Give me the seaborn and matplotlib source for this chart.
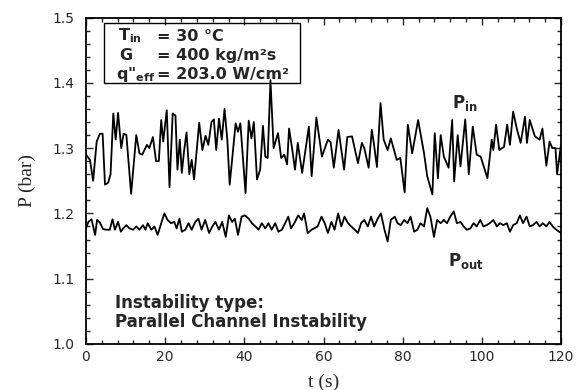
import numpy as np
import pandas as pd
import matplotlib
matplotlib.use("Agg")
import matplotlib.pyplot as plt
import seaborn as sns
from matplotlib.ticker import MultipleLocator
from matplotlib.patches import Rectangle

t_in = [0.0, 1.0, 1.8, 2.7, 3.5, 4.2, 4.8, 5.6, 6.2, 6.9, 7.5, 8.1, 8.9, 9.5, 10.2, 11.4, 12.7, 13.5, 14.2,
        15.4, 16.0, 16.9, 17.7, 18.4, 19.0, 19.5, 20.4, 21.1, 21.9, 22.6, 23.1, 23.7, 24.2, 24.8, 25.4, 26.1,
        26.7, 27.3, 28.6, 29.4, 30.2, 30.9, 31.7, 32.3, 32.9, 33.6, 34.3, 35.0, 35.7, 36.3, 37.8, 38.4, 39.0,
        40.3, 41.1, 41.8, 42.4, 43.2, 44.0, 44.7, 45.3, 45.9, 46.6, 47.4, 48.5, 49.3, 50.1, 50.8, 51.3, 52.0,
        52.8, 53.5, 54.6, 56.3, 57.0, 58.2, 59.6, 61.1, 61.8, 62.6, 63.8, 65.2, 66.0, 67.2, 68.7, 69.7, 70.3,
        71.4, 72.2, 72.7, 73.5, 74.4, 75.2, 76.2, 77.0, 78.5, 79.4, 80.5, 81.3, 82.4, 83.9, 85.4, 86.2, 87.5,
        88.1, 88.9, 89.6, 90.4, 91.6, 92.5, 93.0, 93.9, 94.6, 95.8, 96.7, 97.7, 98.7, 99.7, 101.4, 102.5,
        102.9, 103.6, 104.4, 105.6, 106.4, 107.1, 107.9, 108.9, 109.8, 110.9, 111.4, 112.1, 113.4, 114.6,
        115.3, 116.3, 117.1, 117.8, 118.6, 119.0, 120.0]
p_in = [1.290, 1.282, 1.250, 1.310, 1.322, 1.322, 1.244, 1.247, 1.260, 1.353, 1.313, 1.354, 1.300, 1.322,
        1.320, 1.230, 1.320, 1.292, 1.290, 1.305, 1.300, 1.317, 1.280, 1.280, 1.343, 1.310, 1.358, 1.240,
        1.353, 1.350, 1.267, 1.313, 1.262, 1.297, 1.324, 1.260, 1.282, 1.252, 1.339, 1.297, 1.319, 1.305,
        1.340, 1.344, 1.297, 1.345, 1.313, 1.360, 1.313, 1.244, 1.338, 1.325, 1.338, 1.231, 1.342, 1.315,
        1.340, 1.252, 1.267, 1.334, 1.287, 1.285, 1.404, 1.300, 1.323, 1.285, 1.290, 1.275, 1.330, 1.302,
        1.267, 1.308, 1.262, 1.333, 1.257, 1.347, 1.287, 1.313, 1.309, 1.270, 1.328, 1.267, 1.317, 1.318,
        1.277, 1.308, 1.300, 1.270, 1.328, 1.308, 1.271, 1.369, 1.313, 1.297, 1.315, 1.282, 1.285, 1.232,
        1.336, 1.292, 1.343, 1.292, 1.257, 1.229, 1.323, 1.254, 1.320, 1.287, 1.270, 1.343, 1.249, 1.320,
        1.272, 1.344, 1.260, 1.333, 1.290, 1.287, 1.254, 1.313, 1.297, 1.336, 1.297, 1.302, 1.336, 1.305,
        1.356, 1.328, 1.308, 1.348, 1.308, 1.343, 1.318, 1.313, 1.330, 1.273, 1.310, 1.300, 1.300, 1.260,
        1.305]

t_out = [0.0, 0.6, 1.4, 2.3, 2.8, 3.5, 4.3, 5.2, 6.0, 6.7, 7.3, 8.1, 8.8, 9.4, 10.2, 11.0, 11.9, 12.7, 13.5,
         14.4, 15.0, 15.6, 16.5, 17.3, 18.1, 19.0, 19.8, 20.6, 21.5, 22.3, 22.9, 23.6, 24.2, 25.1, 25.9, 26.7,
         27.6, 28.4, 29.2, 30.1, 31.1, 31.9, 32.7, 33.6, 34.4, 35.3, 36.1, 36.9, 37.6, 38.4, 39.3, 40.1, 41.1,
         41.9, 42.8, 43.6, 44.4, 45.3, 46.1, 46.9, 47.8, 48.6, 49.5, 50.3, 51.1, 51.8, 52.8, 53.6, 54.5, 55.1,
         56.0, 57.0, 58.5, 59.5, 60.3, 61.1, 62.0, 62.8, 63.7, 64.5, 65.3, 66.2, 67.0, 67.9, 68.7, 69.5, 70.3,
         71.2, 72.0, 72.8, 73.7, 74.5, 75.4, 76.2, 77.0, 78.0, 78.7, 79.5, 80.4, 81.2, 82.0, 82.9, 83.7, 84.5,
         85.4, 86.2, 87.0, 87.9, 88.7, 89.6, 90.4, 91.2, 92.0, 92.9, 93.7, 94.6, 95.4, 96.2, 97.1, 97.9, 98.7,
         99.6, 100.4, 101.2, 102.0, 102.9, 103.8, 104.6, 105.4, 106.3, 107.1, 107.9, 108.8, 109.6, 110.4,
         111.3, 112.1, 112.9, 113.8, 114.6, 115.4, 116.3, 117.1, 117.9, 118.8, 120.0]
p_out = [1.177, 1.187, 1.191, 1.167, 1.190, 1.186, 1.176, 1.175, 1.175, 1.191, 1.175, 1.187, 1.172, 1.177,
         1.182, 1.177, 1.175, 1.180, 1.175, 1.182, 1.175, 1.185, 1.175, 1.180, 1.167, 1.185, 1.200, 1.190,
         1.185, 1.187, 1.177, 1.192, 1.172, 1.175, 1.185, 1.175, 1.187, 1.192, 1.175, 1.190, 1.170, 1.180,
         1.187, 1.175, 1.187, 1.164, 1.197, 1.187, 1.192, 1.167, 1.195, 1.197, 1.192, 1.185, 1.180, 1.175,
         1.185, 1.177, 1.185, 1.175, 1.185, 1.172, 1.175, 1.185, 1.195, 1.177, 1.187, 1.197, 1.190, 1.200,
         1.170, 1.175, 1.180, 1.195, 1.185, 1.170, 1.187, 1.175, 1.200, 1.180, 1.195, 1.185, 1.180, 1.175,
         1.170, 1.185, 1.190, 1.180, 1.195, 1.180, 1.192, 1.200, 1.175, 1.157, 1.190, 1.195, 1.185, 1.182,
         1.190, 1.185, 1.195, 1.172, 1.175, 1.185, 1.180, 1.208, 1.195, 1.164, 1.190, 1.185, 1.190, 1.185,
         1.195, 1.203, 1.185, 1.187, 1.180, 1.175, 1.177, 1.185, 1.180, 1.190, 1.180, 1.182, 1.185, 1.190,
         1.180, 1.185, 1.182, 1.185, 1.172, 1.182, 1.185, 1.197, 1.185, 1.195, 1.180, 1.182, 1.187, 1.180,
         1.185, 1.180, 1.187, 1.180, 1.175, 1.170]

x_ticks = [0, 20, 40, 60, 80, 100, 120]
y_ticks = [1.0, 1.1, 1.2, 1.3, 1.4, 1.5]

sns.set_style("ticks")
plt.rcParams["font.family"] = ["DejaVu Sans"]
plt.rcParams["mathtext.fontset"] = "custom"
plt.rcParams["mathtext.rm"] = "DejaVu Sans:bold"
plt.rcParams["mathtext.bf"] = "DejaVu Sans:bold"
plt.rcParams["mathtext.default"] = "rm"

df_in = pd.DataFrame({"t": t_in, "P": p_in})
df_out = pd.DataFrame({"t": t_out, "P": p_out})

fig = plt.figure(figsize=(5.76, 3.9), dpi=100)
ax = fig.add_axes([0.1493, 0.118, 0.8247, 0.837])

sns.lineplot(data=df_in, x="t", y="P", ax=ax, color="black", lw=1.3, estimator=None, sort=False)
sns.lineplot(data=df_out, x="t", y="P", ax=ax, color="black", lw=1.3, estimator=None, sort=False)

ax.set_xlim(0, 120)
ax.set_ylim(1.0, 1.5)
ax.set_xticks(x_ticks)
ax.set_yticks(y_ticks)
ax.set_xticklabels([str(v) for v in x_ticks])
ax.set_yticklabels([f"{v:.1f}" for v in y_ticks])
ax.xaxis.set_minor_locator(MultipleLocator(4))
ax.yaxis.set_minor_locator(MultipleLocator(0.02))
ax.tick_params(which="both", direction="in", top=True, right=True, labelsize=10, width=1.0)
ax.tick_params(axis="x", which="major", pad=4)
ax.tick_params(axis="y", which="major", pad=8)
ax.tick_params(which="major", length=5)
ax.tick_params(which="minor", length=3)
for s in ax.spines.values():
    s.set_linewidth(1.3)
    s.set_color("black")

ax.set_xlabel("t (s)", family="Liberation Serif", fontsize=14, labelpad=7)
ax.set_ylabel("P (bar)", family="Liberation Serif", fontsize=14, labelpad=12)

# parameter box
ax.add_patch(Rectangle((0.038, 0.800), 0.412, 0.184, transform=ax.transAxes,
                       fill=False, edgecolor="black", lw=1.0, zorder=5))
lefts = [r"T$_{in}$", "G", r'q"$_{eff}$']
left_x = [0.067, 0.069, 0.063]
rights = ["= 30 °C", "= 400 kg/m²s", "= 203.0 W/cm²"]
ys = [0.929, 0.870, 0.811]
for l, lx, r, yy in zip(lefts, left_x, rights, ys):
    ax.text(lx, yy, l, transform=ax.transAxes, ha="left", va="baseline",
            fontsize=11.5, fontweight="bold")
    ax.text(0.149, yy, r, transform=ax.transAxes, ha="left", va="baseline",
            fontsize=11.5, fontweight="bold")

ax.text(92.4, 1.361, r"P$_{in}$", fontsize=12, fontweight="bold", ha="left", va="baseline")
ax.text(91.4, 1.120, r"P$_{out}$", fontsize=12, fontweight="bold", ha="left", va="baseline")

ax.text(7.3, 1.0547, "Instability type:", fontsize=12, fontweight="bold", ha="left", va="baseline")
ax.text(7.3, 1.0255, "Parallel Channel Instability", fontsize=12, fontweight="bold", ha="left", va="baseline")

fig.savefig("out.png", dpi=100)
